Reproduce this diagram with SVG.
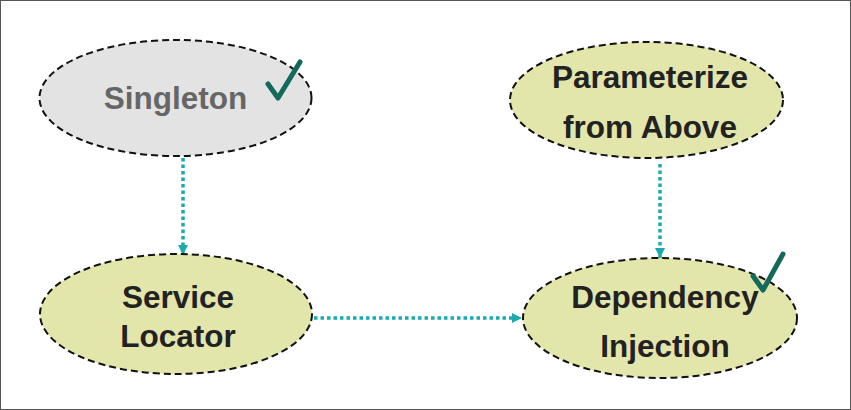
<svg xmlns="http://www.w3.org/2000/svg" width="851" height="410" viewBox="0 0 851 410">
<style>
.node{stroke:#111;stroke-width:2;stroke-dasharray:7 4;}
.green{fill:#e3e6ab;}
.gray{fill:#e3e3e3;}
.lbl{font-family:"Liberation Sans",Arial,sans-serif;font-weight:bold;font-size:31.5px;fill:#222;text-anchor:middle;}
.conn{stroke:#1aacac;stroke-width:3.5;stroke-dasharray:3.5 3;fill:none;}
.check{fill:none;stroke:#13695a;stroke-width:5;stroke-linecap:round;stroke-linejoin:round;}
</style>
<defs>
<marker id="ah" viewBox="0 0 10 10" refX="10" refY="5" markerWidth="10" markerHeight="10" markerUnits="userSpaceOnUse" orient="auto">
<path d="M0,0 L10,5 L0,10 Z" fill="#1aacac"/>
</marker>
</defs>
<rect x="0.5" y="0.5" width="850" height="409" fill="#fff" stroke="#555" stroke-width="1"/>
<g id="connectors">
<path class="conn" d="M183,158 L183,255" marker-end="url(#ah)"/>
<path class="conn" d="M660,164 L660,258" marker-end="url(#ah)"/>
<path class="conn" d="M314,318 L522,318" marker-end="url(#ah)"/>
</g>
<g id="singleton">
<ellipse class="node gray" cx="175.5" cy="98" rx="136" ry="58"/>
<text class="lbl" x="175.5" y="109" style="fill:#666">Singleton</text>
<path class="check" d="M268,84 L278,98 L300,62"/>
</g>
<g id="service-locator">
<ellipse class="node green" cx="176" cy="314" rx="136" ry="60"/>
<text class="lbl" x="178" y="308">Service</text>
<text class="lbl" x="178" y="347">Locator</text>
</g>
<g id="parameterize">
<ellipse class="node green" cx="646.5" cy="100" rx="136.5" ry="58"/>
<text class="lbl" x="650" y="88">Parameterize</text>
<text class="lbl" x="650" y="138">from Above</text>
</g>
<g id="dependency-injection">
<ellipse class="node green" cx="660" cy="318" rx="137" ry="60"/>
<text class="lbl" x="665" y="308">Dependency</text>
<text class="lbl" x="665" y="357">Injection</text>
<path class="check" d="M753,276 L763,290 L783,254"/>
</g>
</svg>
